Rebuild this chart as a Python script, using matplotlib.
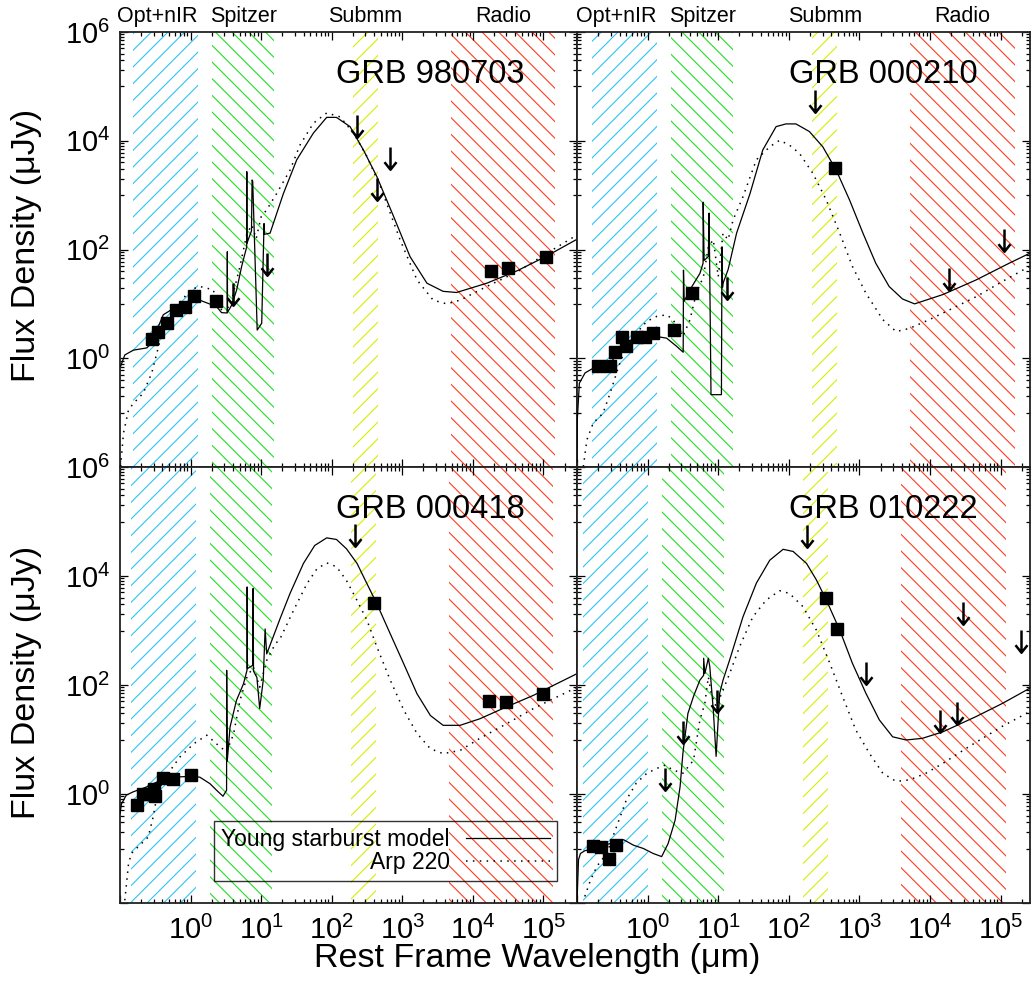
import numpy as np
import matplotlib
matplotlib.use("Agg")
import matplotlib.pyplot as plt
from matplotlib.path import Path
from matplotlib.ticker import FixedLocator, FuncFormatter, NullFormatter
import matplotlib.transforms as mtransforms

plt.rcParams['font.family'] = ['Liberation Sans', 'DejaVu Sans']
plt.rcParams['mathtext.default'] = 'regular'
plt.rcParams['hatch.linewidth'] = 0.8

# ---------------- data ----------------
grb_names = ["GRB 980703", "GRB 000210", "GRB 000418", "GRB 010222"]
redshifts = [0.966, 0.846, 1.118, 1.477]

band_names = ["Opt+nIR", "Spitzer", "Submm", "Radio"]
band_lo_obs = [0.3, 4.0, 395.0, 9700.0]      # observed-frame band edges (um)
band_hi_obs = [2.5, 30.0, 890.0, 2.9e5]
band_colors = ["#2ec4f5", "#22dd22", "#d8ee00", "#ff3c1e"]
band_hatch = ["//", "\\\\", "//", "\\\\"]

# GRB 980703
lam_sb_980703 = [0.102, 0.117, 0.155, 0.24, 0.28, 0.41, 0.63, 1.0, 1.35, 2.34, 2.75, 3.31, 3.32, 3.34, 3.83,
                 4.5, 5.3, 6.25, 6.27, 6.3, 6.96, 7.3, 7.45, 7.6, 8.8, 10.2, 11.0, 11.1, 13.4, 20.7, 32, 55,
                 85, 117, 182, 282, 437, 759, 1290, 2240, 3800, 5890, 15800, 42700, 112000, 302000]
flux_sb_980703 = [0.71, 1.15, 1.41, 1.55, 1.9, 6.3, 8.9, 11.7, 11.7, 8.9, 6.9, 6.8, 91, 7.0, 9.5,
                  18, 49, 112, 2700, 130, 186, 220, 1900, 1800, 3.3, 4.4, 300, 190, 200, 1070, 4470, 13800,
                  26900, 26900, 18200, 6760, 2190, 398, 74, 24, 17, 16.2, 24, 40.7, 76, 155]
lam_arp_980703 = [0.102, 0.112, 0.132, 0.155, 0.214, 0.282, 0.372, 0.457, 0.631, 1.0, 1.35, 2.09, 2.63, 3.63,
                  5.01, 6.31, 7.41, 8.51, 10.0, 12.0, 16.6, 25.7, 35.5, 55, 85, 132, 204, 316, 490, 933, 1620,
                  2750, 4270, 6610, 15800, 42700, 112000, 302000]
flux_arp_980703 = [0.0102, 0.042, 0.112, 0.148, 0.229, 0.537, 2.19, 5.13, 8.9, 18.2, 20.9, 18.2, 7.76, 8.9,
                   49, 200, 282, 158, 398, 537, 1070, 2880, 8300, 21000, 32400, 27500, 13800, 5130, 1450, 151,
                   27.5, 11.7, 10, 11.7, 20.9, 38.9, 85, 186]
lam_det_980703 = [0.28, 0.35, 0.46, 0.63, 0.83, 1.12, 2.29, 18000, 32000, 109000]
flux_det_980703 = [2.3, 3.0, 4.4, 7.7, 8.7, 14, 11.5, 41, 45, 72]
lam_lim_980703 = [4.0, 12, 228, 437, 670]
flux_lim_980703 = [24, 85, 29500, 2040, 7760]

# GRB 000210
lam_sb_000210 = [0.100, 0.101, 0.108, 0.130, 0.171, 0.295, 0.407, 0.562, 0.871, 1.35, 1.86, 2.57, 3.19, 3.22,
                 3.30, 3.98, 5.50, 6.10, 6.12, 6.31, 7.24, 7.43, 7.9, 11.1, 11.3, 11.5, 11.7, 13.8, 18.2, 28.2,
                 42.7, 66, 91, 126, 195, 302, 468, 724, 1120, 1700, 2630, 4070, 6030, 15100, 44700, 132000,
                 257000]
flux_sb_000210 = [0.0126, 0.074, 0.347, 0.537, 0.66, 0.81, 1.41, 2.04, 2.40, 2.51, 2.34, 1.66, 1.29, 41.7,
                  11.2, 18.2, 36.3, 56, 741, 63, 74, 468, 0.214, 0.214, 112, 20, 24, 42.7, 200, 1070,
                  6760, 18200, 20400, 20400, 14800, 7760, 2880, 813, 200, 56, 20.9, 12.3, 10, 14.8, 27.5, 56,
                  85]
lam_arp_000210 = [0.123, 0.138, 0.170, 0.234, 0.295, 0.389, 0.50, 0.69, 0.977, 1.35, 1.86, 2.29, 3.16, 3.98,
                  4.90, 6.17, 7.24, 8.51, 10.0, 11.7, 13.8, 16.2, 22.4, 34.7, 53.7, 74, 102, 141, 219, 339,
                  525, 794, 1230, 2140, 3310, 5130, 9770, 20900, 44700, 105000, 257000]
flux_arp_000210 = [0.0102, 0.0316, 0.0646, 0.098, 0.229, 0.71, 1.66, 2.88, 4.79, 5.9, 6.3, 5.13, 2.51, 5.13,
                   15.8, 31.6, 112, 151, 31.6, 200, 151, 347, 933, 4470, 7760, 10200, 8300, 5890, 2510, 813,
                   200, 49, 15.8, 5.13, 3.09, 3.55, 5.13, 8.3, 13.5, 25.7, 49]
lam_det_000210 = [0.20, 0.29, 0.35, 0.43, 0.50, 0.70, 0.92, 1.18, 2.38, 4.3, 447]
flux_det_000210 = [0.71, 0.71, 1.3, 2.5, 1.65, 2.5, 2.5, 2.9, 3.3, 16, 3100]
lam_lim_000210 = [13.1, 236, 18600, 110000]
flux_lim_000210 = [31.6, 85000, 45.7, 234]

# GRB 000418
lam_sb_000418 = [0.100, 0.105, 0.123, 0.155, 0.240, 0.372, 0.569, 0.881, 1.35, 1.88, 2.34, 2.88, 3.24, 3.25,
                 3.31, 3.63, 4.47, 5.62, 6.31, 6.34, 6.40, 7.6, 7.7, 7.8, 8.71, 9.55, 10.7, 11.4, 12.0, 14.8,
                 18.6, 25.7, 39.8, 57.5, 85, 117, 162, 229, 316, 437, 676, 1050, 1620, 2510, 3800, 6610,
                 12600, 30200, 72400, 138000, 302000]
flux_sb_000418 = [0.44, 0.66, 0.955, 1.10, 1.35, 1.78, 2.04, 2.09, 2.04, 1.55, 1.17, 0.91, 1.17, 186,
                  4.0, 17, 52, 105, 186, 6300, 200, 230, 5900, 180, 138, 37, 120, 1070, 372, 759,
                  1660, 4790, 17000, 36300, 50100, 46800, 31600, 17000, 7240, 3090, 871, 245, 69, 27.5, 18.2,
                  18.2, 24, 39.8, 64.6, 98, 162]
lam_arp_000418 = [0.117, 0.132, 0.145, 0.191, 0.251, 0.295, 0.331, 0.389, 0.513, 0.708, 1.10, 1.70, 2.34,
                  3.24, 4.07, 5.01, 6.31, 7.76, 9.55, 12.0, 15.8, 18.6, 28.8, 44.7, 61.7, 85, 117, 162, 229,
                  316, 437, 676, 1050, 1620, 2510, 3800, 6610, 12600, 30200, 72400, 138000, 302000]
flux_arp_000418 = [0.0112, 0.052, 0.081, 0.115, 0.162, 0.38, 0.87, 1.55, 2.69, 4.79, 8.3, 12.0, 8.3,
                   5.9, 12.6, 52, 141, 214, 91, 282, 562, 708, 2340, 7240, 13500, 17400, 14800, 8300, 3550,
                   1550, 501, 123, 34.7, 12.9, 6.76, 5.5, 6.3, 10.5, 19.5, 37, 56, 91]
lam_det_000418 = [0.172, 0.214, 0.265, 0.30, 0.31, 0.41, 0.57, 1.0, 395, 17000, 29500, 100000]
flux_det_000418 = [0.62, 1.02, 1.02, 1.26, 0.91, 2.0, 1.86, 2.19, 3250, 51, 48, 69]
lam_lim_000418 = [214]
flux_lim_000418 = [91000]

# GRB 010222
lam_sb_010222 = [0.100, 0.105, 0.112, 0.129, 0.170, 0.295, 0.457, 0.631, 0.871, 1.20, 1.58, 1.95, 2.45, 2.88,
                 3.16, 3.72, 4.47, 5.50, 6.20, 6.22, 6.46, 7.24, 7.59, 8.51, 9.33, 10.5, 11.7, 14.5, 22.4,
                 34.7, 53.7, 83, 115, 178, 245, 339, 525, 794, 1230, 1910, 2950, 4570, 7760, 15100, 44700,
                 105000, 257000]
flux_sb_010222 = [0.0100, 0.062, 0.081, 0.091, 0.100, 0.123, 0.145, 0.115, 0.100, 0.081, 0.071, 0.123, 0.33,
                  1.35, 5.6, 30, 62, 123, 150, 310, 162, 309, 219, 35, 4.9, 71, 123, 288, 1780, 7410, 19500,
                  30900, 28200, 17000, 8510, 3630, 1020, 251, 71, 22.9, 11.2, 9.8, 10.5, 13.8, 26.3, 45.7, 87]
lam_arp_010222 = [0.129, 0.155, 0.191, 0.263, 0.363, 0.50, 0.69, 0.977, 1.35, 1.78, 2.29, 3.16, 4.47, 5.50,
                  6.46, 7.24, 7.94, 9.33, 11.7, 14.5, 20.0, 30.9, 47.9, 74, 102, 158, 245, 380, 575, 891,
                  1380, 2140, 3310, 5130, 8710, 15100, 35500, 105000, 257000]
flux_arp_010222 = [0.0132, 0.026, 0.047, 0.081, 0.251, 0.78, 1.58, 2.40, 2.95, 3.39, 2.75, 2.40, 4.17, 22.9,
                   45.7, 141, 71, 39.8, 81, 162, 501, 1780, 3630, 5370, 4790, 2750, 1020, 251, 62, 14.8,
                   5.6, 2.40, 1.70, 1.82, 2.40, 3.63, 7.4, 17.4, 32.4]
lam_det_010222 = [0.17, 0.22, 0.28, 0.36, 336, 480]
flux_det_010222 = [0.11, 0.105, 0.063, 0.115, 3900, 1070]
lam_lim_010222 = [1.78, 3.16, 9.55, 178, 1230, 13800, 24000, 29500, 191000]
flux_lim_010222 = [2.95, 21.4, 81, 87000, 269, 34.7, 49, 3390, 1020]

panels = [
    (lam_sb_980703, flux_sb_980703, lam_arp_980703, flux_arp_980703, lam_det_980703, flux_det_980703,
     lam_lim_980703, flux_lim_980703),
    (lam_sb_000210, flux_sb_000210, lam_arp_000210, flux_arp_000210, lam_det_000210, flux_det_000210,
     lam_lim_000210, flux_lim_000210),
    (lam_sb_000418, flux_sb_000418, lam_arp_000418, flux_arp_000418, lam_det_000418, flux_det_000418,
     lam_lim_000418, flux_lim_000418),
    (lam_sb_010222, flux_sb_010222, lam_arp_010222, flux_arp_010222, lam_det_010222, flux_det_010222,
     lam_lim_010222, flux_lim_010222),
]

x_limits = [(0.1, 3.0e5), (0.1, 2.6e5)]
y_limits = (1e-2, 1e6)
y_major = [1e-2, 1e0, 1e2, 1e4, 1e6]
y_minor = [k * 10.0 ** e for e in (-1, 1, 3, 5) for k in range(1, 10)]
x_major = [10.0 ** e for e in range(-1, 6)]
x_minor = [k * 10.0 ** e for e in range(-1, 6) for k in range(2, 10)]

# ---------------- figure ----------------
fig = plt.figure(figsize=(10.32, 9.93), dpi=100)
W, H = 1032.0, 993.0
col_x = [120 / W, 577 / W]
col_w = [457 / W, 453 / W]
row_y = [1 - 467 / H, 1 - 903 / H]
row_h = [435 / H, 436 / H]

arrow_path = Path([(0, 0), (0, -1), (-0.27, -0.66), (0, -1), (0.27, -0.66)],
                  [Path.MOVETO, Path.LINETO, Path.MOVETO, Path.LINETO, Path.LINETO])


def pow_fmt(v, pos):
    if v < 0.5:
        return ""
    return r"$10^{%d}$" % int(round(np.log10(v)))


axes = []
for i in range(4):
    r, c = divmod(i, 2)
    ax = fig.add_axes([col_x[c], row_y[r], col_w[c], row_h[r]])
    axes.append(ax)
    ax.set_xscale('log')
    ax.set_yscale('log')
    ax.set_xlim(*x_limits[c])
    ax.set_ylim(*y_limits)
    zp1 = 1.0 + redshifts[i]

    for lo, hi, col, hat in zip(band_lo_obs, band_hi_obs, band_colors, band_hatch):
        ax.axvspan(lo / zp1, hi / zp1, facecolor='none', edgecolor=col, hatch=hat, lw=0, zorder=0)

    lam_sb, flux_sb, lam_arp, flux_arp, lam_det, flux_det, lam_lim, flux_lim = panels[i]
    l1, = ax.plot(lam_sb, flux_sb, color='k', lw=0.9, zorder=3, label='Young starburst model')
    l2, = ax.plot(lam_arp, flux_arp, color='k', lw=1.1, ls=(0, (1, 3.5)), zorder=3, label='Arp 220')
    ax.plot(lam_det, flux_det, ls='none', marker='s', ms=8.5, color='k', zorder=4)
    ax.plot(lam_lim, flux_lim, ls='none', marker=arrow_path, ms=32, mec='k', mfc='none', mew=1.8, zorder=4)

    ax.text(0.885, 0.882, grb_names[i], transform=ax.transAxes, ha='right', va='baseline', fontsize=23.5)

    ax.xaxis.set_major_locator(FixedLocator(x_major))
    ax.xaxis.set_minor_locator(FixedLocator(x_minor))
    ax.yaxis.set_major_locator(FixedLocator(y_major))
    ax.yaxis.set_minor_locator(FixedLocator(y_minor))
    ax.xaxis.set_minor_formatter(NullFormatter())
    ax.yaxis.set_minor_formatter(NullFormatter())
    if r == 1:
        ax.xaxis.set_major_formatter(FuncFormatter(pow_fmt))
    else:
        ax.xaxis.set_major_formatter(NullFormatter())
    if c == 0:
        ax.yaxis.set_major_formatter(FuncFormatter(pow_fmt))
    else:
        ax.yaxis.set_major_formatter(NullFormatter())
    ax.tick_params(which='both', direction='in', top=True, right=True, width=0.9, colors='k')
    ax.tick_params(which='major', length=6)
    ax.tick_params(which='minor', length=3)
    ax.tick_params(axis='x', which='major', labelsize=21, pad=9)
    ax.tick_params(axis='y', which='major', labelsize=21, pad=7)
    for sp in ax.spines.values():
        sp.set_linewidth(1.3)
        sp.set_color('#222222')

    if r == 0:
        trans = mtransforms.blended_transform_factory(ax.transData, ax.transAxes)
        for name, lo, hi in zip(band_names, band_lo_obs, band_hi_obs):
            if name == "Opt+nIR":
                ax.text(hi / zp1, 1.0237, name, transform=trans, ha='right', va='baseline', fontsize=15.5)
            else:
                ax.text(np.sqrt(lo * hi) / zp1, 1.0237, name, transform=trans, ha='center',
                        va='baseline', fontsize=15.5)

    if i == 2:
        leg = ax.legend(handles=[l1, l2], loc='lower left', bbox_to_anchor=(0.206, 0.051),
                        borderaxespad=0, markerfirst=False, fancybox=False, fontsize=16.5,
                        handlelength=3.7, handletextpad=0.7, labelspacing=0.0, borderpad=0.3)
        leg.get_frame().set_facecolor('none')
        leg.get_frame().set_edgecolor('k')
        leg.get_frame().set_linewidth(1.0)

fig.text(27 / W, 1 - 245 / H, 'Flux Density (\u03bcJy)', rotation=90, ha='center', va='center', fontsize=24.5)
fig.text(27 / W, 1 - 682 / H, 'Flux Density (\u03bcJy)', rotation=90, ha='center', va='center', fontsize=24.5)
fig.text(537 / W, 1 - 958 / H, 'Rest Frame Wavelength (\u03bcm)', ha='center', va='center', fontsize=24.5)

fig.savefig('out.png', dpi=100)
